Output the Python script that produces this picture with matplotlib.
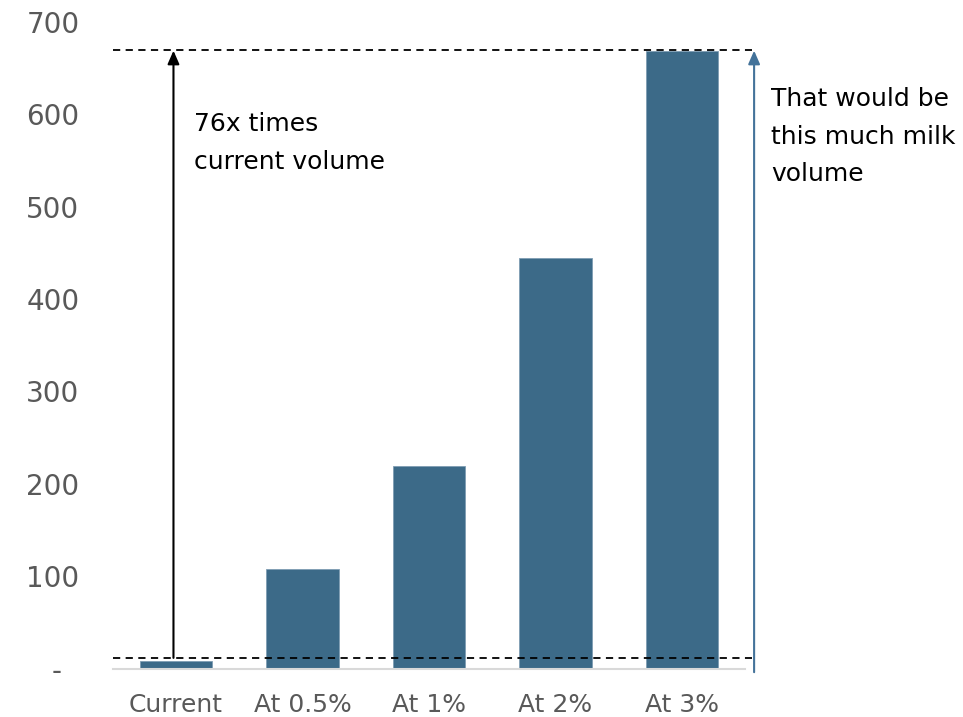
import matplotlib
matplotlib.use("Agg")
import matplotlib.pyplot as plt

categories = ["Current", "At 0.5%", "At 1%", "At 2%", "At 3%"]
values = [8, 108, 219, 444, 669]
y_ticks = [0, 100, 200, 300, 400, 500, 600, 700]
y_tick_labels = ["-  ", "100", "200", "300", "400", "500", "600", "700"]
top_ref = 670
low_ref = 11.5
note_left = "76x times\ncurrent volume"
note_right = "That would be\nthis much milk\nvolume"

bar_color = "#3C6A88"
arrow_color = "#44739A"
gray = "#595959"

fig = plt.figure(figsize=(9.63, 7.17), dpi=100)
ax = fig.add_axes([112.75/963, (717-668.5)/717, 632.5/963, 646.5/717])

x = list(range(len(categories)))
ax.bar(x, values, width=0.575, color=bar_color, edgecolor="#7F9DB3", linewidth=0.6, zorder=2)

ax.set_xlim(-0.5, 4.5)
ax.set_ylim(0, 700)
ax.set_yticks(y_ticks)
ax.set_yticklabels(y_tick_labels)
ax.set_xticks(x)
ax.set_xticklabels(categories)
ax.tick_params(axis="y", length=0, pad=24, labelsize=20, labelcolor=gray)
ax.tick_params(axis="x", length=0, pad=18, labelsize=18, labelcolor=gray)

for s in ["top", "right", "left"]:
    ax.spines[s].set_visible(False)
ax.spines["bottom"].set_color("#D9D9D9")
ax.spines["bottom"].set_linewidth(1.5)

# dashed reference lines
ax.plot([-0.5, 4.555], [top_ref, top_ref], ls=(0, (4, 3)), color="black", lw=1.3, clip_on=False, zorder=3)
ax.plot([-0.5, 4.555], [low_ref, low_ref], ls=(0, (4, 3)), color="black", lw=1.3, clip_on=False, zorder=3)

# left arrow (black)
ax.annotate("", xy=(-0.02, top_ref - 1), xytext=(-0.02, low_ref),
            arrowprops=dict(arrowstyle="-|>,head_length=0.8,head_width=0.35", color="black", lw=1.5,
                            shrinkA=0, shrinkB=0), zorder=4)
# right arrow (blue)
ax.annotate("", xy=(4.57, top_ref - 1), xytext=(4.57, -4),
            arrowprops=dict(arrowstyle="-|>,head_length=0.8,head_width=0.35", color=arrow_color, lw=1.5,
                            shrinkA=0, shrinkB=0), zorder=4, annotation_clip=False)

fig.text(194/963, 1 - 112/717, note_left, fontsize=18, color="black", va="top", ha="left", linespacing=1.72)
fig.text(771/963, 1 - 87/717, note_right, fontsize=18, color="black", va="top", ha="left", linespacing=1.72)

fig.savefig("out.png", dpi=100)
